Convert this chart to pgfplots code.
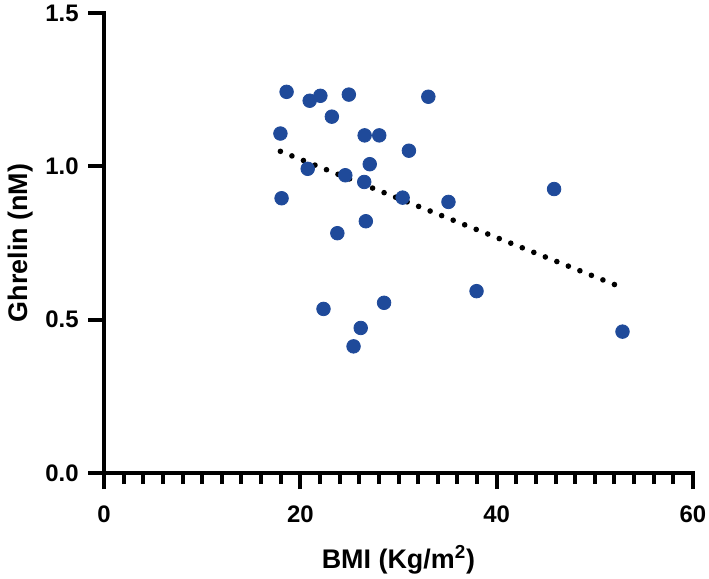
\documentclass[border=0pt]{standalone}
\usepackage{fontspec}
\setmainfont{Liberation Sans}
\usepackage{pgfplots}
\pgfplotsset{compat=1.18}
\definecolor{dotblue}{RGB}{31,74,154}

\begin{document}
\begin{tikzpicture}
\begin{axis}[
    scale only axis,
    width=294.5bp,
    height=230bp,
    xmin=0, xmax=60,
    ymin=0, ymax=1.5,
    axis x line*=bottom,
    axis y line*=left,
    axis line style={line width=2bp, line cap=rect},
    every tick/.style={line width=2bp, black},
    tick align=outside,
    major tick length=8bp,
    minor tick length=5.5bp,
    xtick={0,20,40,60},
    minor x tick num=9,
    ytick={0,0.5,1,1.5},
    yticklabel style={xshift=-4.5bp, /pgf/number format/.cd, fixed, fixed zerofill, precision=1},
    /pgf/number format/assume math mode=true,
    tick label style={inner sep=0pt, font=\fontsize{12}{14}\selectfont\bfseries},
    xticklabel style={yshift=-8bp},
    every axis x label/.style={at={(rel axis cs:0.5,0)}, anchor=north, yshift=-36bp,
        inner sep=0pt, font=\fontsize{13.5}{16}\selectfont\bfseries},
    every axis y label/.style={at={(rel axis cs:0,0.5)}, xshift=-35.5bp, rotate=90, anchor=south,
        inner sep=0pt, font=\fontsize{13.5}{16}\selectfont\bfseries},
    xlabel={BMI (Kg/m\textsuperscript{2})},
    ylabel={Ghrelin (nM)},
    clip=false,
]
% page frame, same margins as the reference
\path (rel axis cs:-0.1766,-0.2283) rectangle (rel axis cs:1.0272,1.0283);
% linear fit, drawn as a dotted line
\addplot[black, line width=2.8bp, line cap=round, dash pattern=on 0pt off 6.2bp]
  coordinates {(17.97,1.049) (52.13,0.613)};
\addplot[only marks, mark=*, mark size=3.4bp, mark options={draw=dotblue, fill=dotblue}]
  coordinates {
    (18.6,1.243) (20.95,1.214) (22.04,1.230) (24.94,1.234) (33.04,1.227)
    (23.21,1.162) (17.97,1.107) (26.55,1.101) (28.04,1.101) (31.06,1.051)
    (27.07,1.007) (20.75,0.992) (24.58,0.971) (26.51,0.949) (18.09,0.896)
    (30.42,0.898) (35.09,0.884) (45.85,0.926) (26.67,0.821) (23.77,0.782)
    (37.95,0.593) (22.36,0.535) (28.53,0.555) (26.15,0.473) (25.42,0.413)
    (52.82,0.461)
  };
\end{axis}
\end{tikzpicture}
\end{document}
